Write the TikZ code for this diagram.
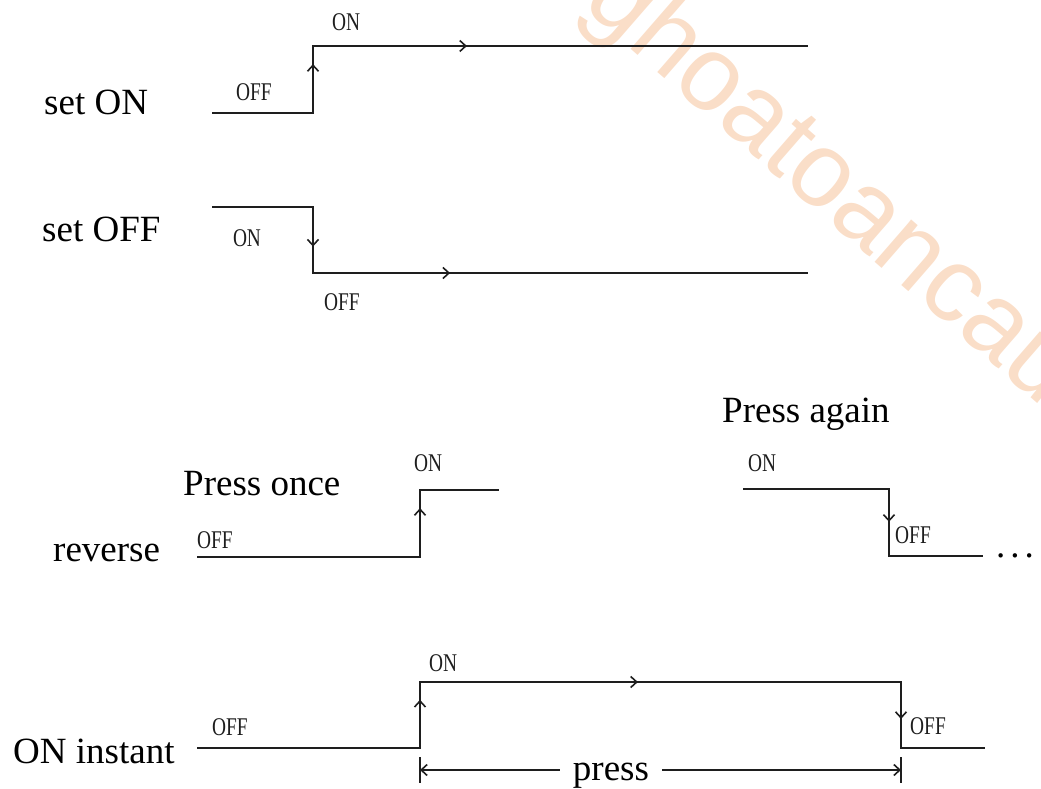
\documentclass[tikz,border=0pt]{standalone}
\usepackage{fontspec}
\setmainfont{Liberation Serif}
\newfontfamily\lblfont[FakeStretch=0.76]{Liberation Serif}
\newfontfamily\wmfont{Liberation Sans}
\usetikzlibrary{arrows.meta,decorations.markings}
\definecolor{wm}{RGB}{250,222,200}
\definecolor{ink}{RGB}{30,30,30}
\tikzset{
 sig/.style={line width=1.6pt, draw=ink},
 lbl/.style={font=\lblfont\fontsize{25.5}{26}\selectfont, inner sep=0pt, text=ink},
 big/.style={font=\fontsize{37}{40}\selectfont, inner sep=0pt, anchor=base west},
 arrowmark/.style={decoration={markings, mark=at position #1 with {\draw[sig,-{Straight Barb[length=6pt,width=11pt]}] (-4pt,0) -- (0,0);}}, decorate},
 endtip/.style={-{Straight Barb[length=6pt,width=11pt]}}
}
\begin{document}
\begin{tikzpicture}[x=1pt,y=-1pt]
\useasboundingbox (0,0) rectangle (1041,789);
\clip (0,0) rectangle (1041,789);
% watermark
\node[font=\wmfont\fontsize{106}{106}\selectfont, text=wm, rotate=-41, anchor=base, inner sep=0pt] (wmk) at (812,207) {ghoatoancau};

% ---- set ON ----
\coordinate (a1) at (212,113);
\coordinate (a2) at (313,113);
\coordinate (a3) at (313,46);
\coordinate (a4) at (808,46);
\draw[sig] (a1) -- (a2) -- (a3) -- (a4);
\path[arrowmark=0.73] (a2) -- (a3);
\path[arrowmark=0.311] (a3) -- (a4);
\node[big] (setON) at (44,115) {set ON};
\node[lbl] (aON) at (346,22) {ON};
\node[lbl] (aOFF) at (254,92) {OFF};

% ---- set OFF ----
\coordinate (b1) at (212,207);
\coordinate (b2) at (313,207);
\coordinate (b3) at (313,273);
\coordinate (b4) at (808,273);
\draw[sig] (b1) -- (b2) -- (b3) -- (b4);
\path[arrowmark=0.6] (b2) -- (b3);
\path[arrowmark=0.277] (b3) -- (b4);
\node[big] (setOFF) at (42,241) {set OFF};
\node[lbl] (bON) at (247,238) {ON};
\node[lbl] (bOFF) at (342,302) {OFF};

% ---- reverse ----
\coordinate (c1) at (197,557);
\coordinate (c2) at (420,557);
\coordinate (c3) at (420,490);
\coordinate (c4) at (499,490);
\draw[sig] (c1) -- (c2) -- (c3) -- (c4);
\path[arrowmark=0.73] (c2) -- (c3);
\node[big] (rev) at (53,561) {reverse};
\node[big] (once) at (183,495) {Press once};
\node[lbl] (cOFF) at (215,540) {OFF};
\node[lbl] (cON) at (428,463) {ON};

\coordinate (d1) at (743,489);
\coordinate (d2) at (889,489);
\coordinate (d3) at (889,556);
\coordinate (d4) at (983,556);
\draw[sig] (d1) -- (d2) -- (d3) -- (d4);
\path[arrowmark=0.49] (d2) -- (d3);
\node[big] (again) at (722,422) {Press again};
\node[lbl] (dON) at (762,463) {ON};
\node[lbl] (dOFF) at (913,535) {OFF};
\node[big] (dots) at (996,557) {.\hspace{5pt}.\hspace{5pt}.\hspace{5pt}.};

% ---- ON instant ----
\coordinate (e1) at (197,748);
\coordinate (e2) at (420,748);
\coordinate (e3) at (420,682);
\coordinate (e4) at (901,682);
\coordinate (e5) at (901,748);
\coordinate (e6) at (985,748);
\draw[sig] (e1) -- (e2) -- (e3) -- (e4) -- (e5) -- (e6);
\path[arrowmark=0.73] (e2) -- (e3);
\path[arrowmark=0.453] (e3) -- (e4);
\path[arrowmark=0.56] (e4) -- (e5);
\node[big] (inst) at (13,763) {ON instant};
\node[lbl] (eON) at (443,663) {ON};
\node[lbl] (eOFF1) at (230,727) {OFF};
\node[lbl] (eOFF2) at (928,726) {OFF};

% dimension
\coordinate (t1a) at (420,757);
\coordinate (t1b) at (420,783);
\coordinate (t2a) at (901,757);
\coordinate (t2b) at (901,783);
\draw[sig] (t1a) -- (t1b);
\draw[sig] (t2a) -- (t2b);
\coordinate (L) at (420,770);
\coordinate (R) at (901,770);
\node[big, anchor=base, inner xsep=13pt] (press) at (611,780) {press};
\draw[sig, endtip] (L -| press.west) -- (L);
\draw[sig, endtip] (R -| press.east) -- (R);
\end{tikzpicture}
\end{document}
